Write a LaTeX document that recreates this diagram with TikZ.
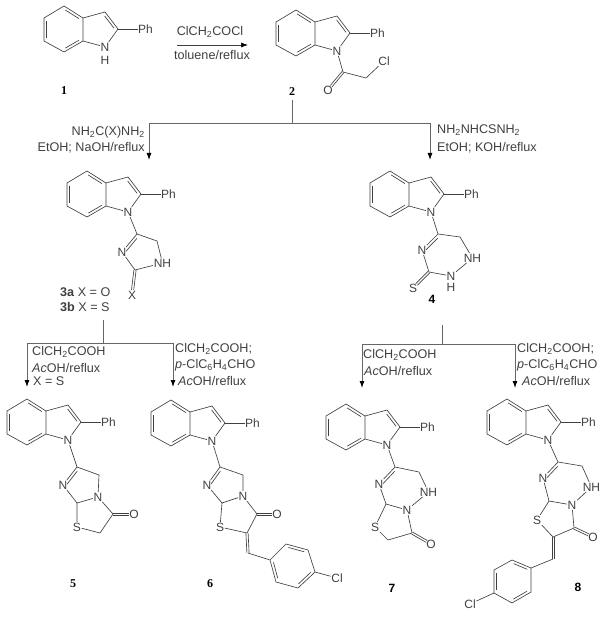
\documentclass[tikz,border=0pt]{standalone}
\usepackage{fontspec}
\setmainfont{Liberation Sans}
\newfontfamily\serifnum{Liberation Serif}
\usetikzlibrary{calc,arrows.meta}
\definecolor{ink}{gray}{0.25}
\tikzset{
  bond/.style={draw=ink,line width=0.65pt},
  flow/.style={draw=black!60,line width=0.9pt},
  flowarrow/.style={flow,-{Latex[length=7pt,width=5pt,black]}},
  atom/.style={inner sep=0.6pt,text=ink,font=\fontsize{12}{13}\selectfont},
  cond/.style={inner sep=0pt,text=ink,anchor=west,font=\fontsize{12.6}{13}\selectfont},
  condr/.style={cond,anchor=east},
  numa/.style={inner sep=0pt,font=\serifnum\bfseries\fontsize{12}{13}\selectfont},
  numb/.style={inner sep=0pt,font=\bfseries\fontsize{12}{13}\selectfont}
}
\newcommand{\sub}[1]{\textsubscript{#1}}
\newcommand{\inbond}[3]{\draw[bond] ($(#1)!0.14!(#2)!2.7pt!#3:(#2)$) -- ($(#2)!0.14!(#1)!2.7pt!-#3:(#1)$);}
\newcommand{\twobond}[3]{
  \draw[bond,shorten >=#3] ($(#1)!1.1pt!90:(#2)$) -- ($(#2)!1.1pt!-90:(#1)$);
  \draw[bond,shorten >=#3] ($(#1)!1.1pt!-90:(#2)$) -- ($(#2)!1.1pt!90:(#1)$);
}
\newcommand{\indole}[3]{
  \begin{scope}[shift={(#2,#3)}]
    \node[atom] (#1n) at (0,0) {N};
    \coordinate (#1c7a) at (-22,-6);
    \coordinate (#1c3a) at (-22,-29);
    \coordinate (#1c4) at (-41,-41);
    \coordinate (#1c5) at (-61,-29);
    \coordinate (#1c6) at (-61,-6);
    \coordinate (#1c7) at (-41,5);
    \coordinate (#1c3) at (0,-35);
    \coordinate (#1c2) at (13,-18);
    \node[atom,anchor=west,inner sep=0pt] (#1ph) at (33,-18) {Ph};
  \end{scope}
  \draw[bond] (#1n) -- (#1c7a) -- (#1c3a) -- (#1c4) -- (#1c5) -- (#1c6) -- (#1c7) -- (#1c7a);
  \draw[bond] (#1c3a) -- (#1c3) -- (#1c2) -- (#1n);
  \draw[bond] (#1c2) -- (#1ph);
  \inbond{#1c3a}{#1c4}{90}
  \inbond{#1c5}{#1c6}{90}
  \inbond{#1c7}{#1c7a}{90}
  \inbond{#1c3}{#1c2}{-90}
}
\begin{document}
\begin{tikzpicture}[x=1pt,y=-1pt]
  \useasboundingbox (0,0) rectangle (615,617);

  % 1
  \indole{a}{105}{47}
  \node[atom] (ah) at (105,60) {H};
  \node[numa] (no1) at (64,91) {1};
  \coordinate (rxs) at (177,45);
  \coordinate (rxe) at (248,45);
  \draw[flowarrow,draw=ink,line width=0.7pt] (rxs) -- (rxe);
  \node[cond,anchor=center] (rxa) at (210,32) {ClCH\sub{2}COCl};
  \node[cond,anchor=center] (rxb) at (212,55) {toluene/reflux};

  % 2
  \indole{b}{337}{51}
  \coordinate (bco) at (343,72);
  \coordinate (bch) at (366,78);
  \node[atom] (bo) at (328,90) {O};
  \node[atom] (bcl) at (384,61) {Cl};
  \draw[bond] (bn) -- (bco) -- (bch) -- (bcl);
  \twobond{bco}{bo}{5pt}
  \node[numa] (no2) at (292,92) {2};

  % branch 2 to 3 and 4
  \coordinate (fa) at (292,100);
  \coordinate (fb) at (292,123);
  \coordinate (fl) at (149,123);
  \coordinate (fr) at (430,123);
  \coordinate (fle) at (149,160);
  \coordinate (fre) at (430,160);
  \draw[flow] (fa) -- (fb);
  \draw[flow] (fb) -- (fl);
  \draw[flow] (fb) -- (fr);
  \draw[flowarrow] (fl) -- (fle);
  \draw[flowarrow] (fr) -- (fre);
  \node[condr] (ca) at (145,132) {NH\sub{2}C(X)NH\sub{2}};
  \node[condr] (cb) at (145,148) {EtOH; NaOH/reflux};
  \node[cond] (cc) at (437,130) {NH\sub{2}NHCSNH\sub{2}};
  \node[cond] (cd) at (437,148) {EtOH; KOH/reflux};

  % 3
  \indole{c}{128}{212}
  \coordinate (cca) at (137,234);
  \coordinate (ccb) at (157,241);
  \node[atom,anchor=west,inner sep=0.6pt] (cnh) at (153,263) {NH};
  \coordinate (ccc) at (135,270);
  \node[atom] (cnb) at (122,252) {N};
  \node[atom] (cx) at (132,295) {X};
  \draw[bond] (cn) -- (cca) -- (ccb) -- (cnh) -- (ccc) -- (cnb) -- (cca);
  \inbond{cca}{cnb}{90}
  \twobond{ccc}{cx}{5pt}
  \node[cond] (na) at (60,292) {\textbf{3a} X = O};
  \node[cond] (nb) at (60,307) {\textbf{3b} X = S};

  % 4
  \indole{d}{431}{212}
  \coordinate (dca) at (438,234);
  \coordinate (dcb) at (460,237);
  \node[atom,anchor=west,inner sep=0.6pt] (dnh) at (463,258) {NH};
  \node[atom] (dnc) at (451,276) {N};
  \node[atom] (dh) at (451,287) {H};
  \coordinate (dcc) at (429,272);
  \node[atom] (dnb) at (422,250) {N};
  \node[atom] (ds) at (413,288) {S};
  \draw[bond] (dn) -- (dca) -- (dcb) -- (dnh) -- (dnc) -- (dcc) -- (dnb) -- (dca);
  \inbond{dca}{dnb}{90}
  \twobond{dcc}{ds}{5pt}
  \node[numb] (no4) at (432,299) {4};

  % branch 3 to 5 and 6
  \coordinate (ga) at (103,320);
  \coordinate (gb) at (103,343);
  \coordinate (gl) at (27,343);
  \coordinate (gr) at (173,343);
  \coordinate (gle) at (27,387);
  \coordinate (gre) at (173,387);
  \draw[flow] (ga) -- (gb);
  \draw[flow] (gb) -- (gl);
  \draw[flow] (gb) -- (gr);
  \draw[flowarrow] (gl) -- (gle);
  \draw[flowarrow] (gr) -- (gre);
  \node[cond] (ga1) at (32,352) {ClCH\sub{2}COOH};
  \node[cond] (ga2) at (32,368) {\textit{Ac}OH/reflux};
  \node[cond] (ga3) at (33,381) {X = S};
  \node[cond] (gb1) at (175,349) {ClCH\sub{2}COOH;};
  \node[cond] (gb2) at (175,365) {\textit{p}-ClC\sub{6}H\sub{4}CHO};
  \node[cond] (gb3) at (178,381) {\textit{Ac}OH/reflux};

  % 5
  \indole{e}{68}{440}
  \coordinate (eca) at (77,467);
  \coordinate (ecb) at (99,475);
  \node[atom] (enc) at (98,497) {N};
  \coordinate (ecc) at (77,503);
  \node[atom] (enb) at (63,485) {N};
  \node[atom] (es) at (77,527) {S};
  \coordinate (ecd) at (100,533);
  \coordinate (ece) at (113,514);
  \node[atom] (eo) at (134,514) {O};
  \draw[bond] (en) -- (eca) -- (ecb) -- (enc) -- (ecc) -- (enb) -- (eca);
  \inbond{eca}{enb}{90}
  \draw[bond] (ecc) -- (es) -- (ecd) -- (ece) -- (enc);
  \twobond{ece}{eo}{5pt}
  \node[numa] (no5) at (73,584) {5};

  % 6
  \indole{f}{212}{441}
  \coordinate (fca) at (220,467);
  \coordinate (fcb) at (243,475);
  \node[atom] (fnc) at (243,496) {N};
  \coordinate (fcc) at (222,503);
  \node[atom] (fnb) at (207,485) {N};
  \node[atom] (fs) at (220,527) {S};
  \coordinate (fcd) at (247,533);
  \coordinate (fce) at (257,514);
  \node[atom] (fo) at (277,514) {O};
  \coordinate (fcf) at (248,553);
  \coordinate (fr1) at (270,560);
  \coordinate (fr2) at (286,544);
  \coordinate (fr3) at (308,550);
  \coordinate (fr4) at (315,572);
  \coordinate (fr5) at (298,588);
  \coordinate (fr6) at (276,582);
  \node[atom] (fcl) at (337,578) {Cl};
  \draw[bond] (fn) -- (fca) -- (fcb) -- (fnc) -- (fcc) -- (fnb) -- (fca);
  \inbond{fca}{fnb}{90}
  \draw[bond] (fcc) -- (fs) -- (fcd) -- (fce) -- (fnc);
  \twobond{fce}{fo}{5pt}
  \twobond{fcd}{fcf}{0pt}
  \draw[bond] (fcf) -- (fr1) -- (fr2) -- (fr3) -- (fr4) -- (fr5) -- (fr6) -- (fr1);
  \inbond{fr2}{fr3}{-90}
  \inbond{fr4}{fr5}{-90}
  \inbond{fr6}{fr1}{-90}
  \draw[bond] (fr4) -- (fcl);
  \node[numa] (no6) at (210,584) {6};

  % branch 4 to 7 and 8
  \coordinate (ha) at (442,325);
  \coordinate (hb) at (442,344);
  \coordinate (hl) at (362,344);
  \coordinate (hr) at (515,344);
  \coordinate (hle) at (362,388);
  \coordinate (hre) at (515,388);
  \draw[flow] (ha) -- (hb);
  \draw[flow] (hb) -- (hl);
  \draw[flow] (hb) -- (hr);
  \draw[flowarrow] (hl) -- (hle);
  \draw[flowarrow] (hr) -- (hre);
  \node[cond] (ha1) at (363,355) {ClCH\sub{2}COOH};
  \node[cond] (ha2) at (364,371) {\textit{Ac}OH/reflux};
  \node[cond] (hb1) at (517,349) {ClCH\sub{2}COOH;};
  \node[cond] (hb2) at (517,365) {\textit{p}-ClC\sub{6}H\sub{4}CHO};
  \node[cond] (hb3) at (522,381) {\textit{Ac}OH/reflux};

  % 7
  \indole{g}{387}{445}
  \coordinate (gca) at (395,467);
  \coordinate (gcb) at (419,472);
  \node[atom,anchor=west,inner sep=0.6pt] (gnh) at (419,492) {NH};
  \node[atom] (gnc) at (407,510) {N};
  \coordinate (gcc) at (386,504);
  \node[atom] (gnb) at (379,484) {N};
  \node[atom] (gs) at (375,527) {S};
  \coordinate (gcd) at (388,540);
  \coordinate (gce) at (412,533);
  \node[atom] (go) at (431,544) {O};
  \draw[bond] (gn) -- (gca) -- (gcb) -- (gnh) -- (gnc) -- (gcc) -- (gnb) -- (gca);
  \inbond{gca}{gnb}{90}
  \draw[bond] (gcc) -- (gs) -- (gcd) -- (gce) -- (gnc);
  \twobond{gce}{go}{5pt}
  \node[numb] (no7) at (392,588) {7};

  % 8
  \indole{h}{548}{440}
  \coordinate (hca) at (558,462);
  \coordinate (hcb) at (582,466);
  \node[atom,anchor=west,inner sep=0.6pt] (hnh) at (582,487) {NH};
  \node[atom] (hnc) at (572,505) {N};
  \coordinate (hcc) at (549,501);
  \node[atom] (hnb) at (543,478) {N};
  \node[atom] (hs) at (537,520) {S};
  \coordinate (hcd) at (553,537);
  \coordinate (hce) at (574,528);
  \node[atom] (ho) at (593,537) {O};
  \coordinate (hcf) at (553,559);
  \coordinate (hr1) at (531,568);
  \coordinate (hr2) at (512,560);
  \coordinate (hr3) at (494,570);
  \coordinate (hr4) at (494,593);
  \coordinate (hr5) at (512,603);
  \coordinate (hr6) at (531,592);
  \node[atom] (hcl) at (470,604) {Cl};
  \draw[bond] (hn) -- (hca) -- (hcb) -- (hnh) -- (hnc) -- (hcc) -- (hnb) -- (hca);
  \inbond{hca}{hnb}{90}
  \draw[bond] (hcc) -- (hs) -- (hcd) -- (hce) -- (hnc);
  \twobond{hce}{ho}{5pt}
  \twobond{hcd}{hcf}{0pt}
  \draw[bond] (hcf) -- (hr1) -- (hr2) -- (hr3) -- (hr4) -- (hr5) -- (hr6) -- (hr1);
  \inbond{hr1}{hr2}{90}
  \inbond{hr3}{hr4}{90}
  \inbond{hr5}{hr6}{90}
  \draw[bond] (hr4) -- (hcl);
  \node[numb] (no8) at (578,587) {8};
\end{tikzpicture}
\end{document}
